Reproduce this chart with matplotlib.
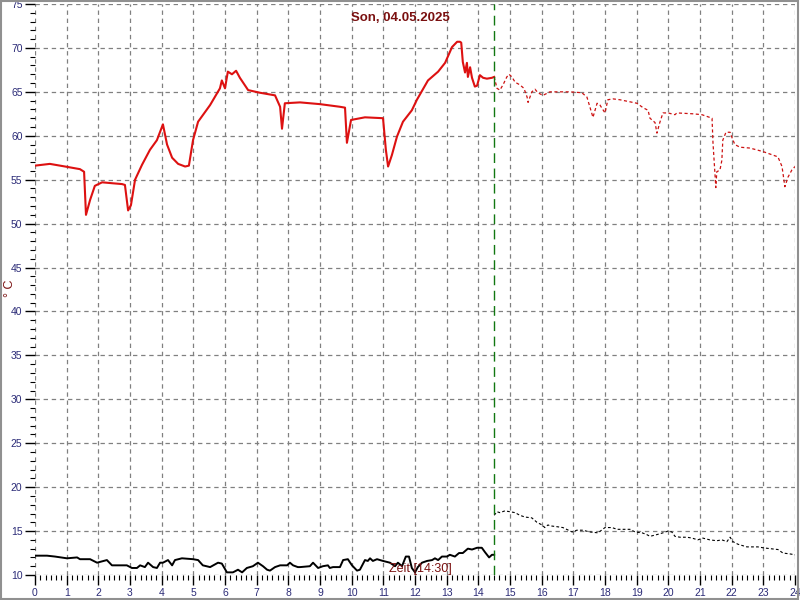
import matplotlib
matplotlib.use("Agg")
import matplotlib.pyplot as plt
from matplotlib.ticker import MultipleLocator
from matplotlib.patches import Rectangle

plt.rcParams['font.family'] = ['Liberation Sans', 'DejaVu Sans']

# --- data (hour of day, value in °C) ---
red_t = [0, 0.47, 0.95, 1.42, 1.55, 1.61, 1.74, 1.89, 2.12, 2.43, 2.75, 2.84, 2.94, 3.03, 3.16,
         3.38, 3.63, 3.85, 4.04, 4.17, 4.33, 4.52, 4.74, 4.86, 4.99, 5.15, 5.53, 5.84, 5.90, 6.0,
         6.09, 6.22, 6.35, 6.47, 6.73, 7.10, 7.58, 7.74, 7.80, 7.89, 8.37, 9.0, 9.63, 9.79, 9.85,
         9.98, 10.42, 10.99, 11.08, 11.15, 11.27, 11.43, 11.62, 11.90, 12.06, 12.41, 12.73, 12.95,
         13.17, 13.33, 13.42, 13.46, 13.51, 13.58, 13.64, 13.67, 13.74, 13.80, 13.89, 13.96, 14.05,
         14.15, 14.27, 14.43, 14.5]
red_v = [56.6, 56.8, 56.5, 56.2, 55.9, 51.0, 52.7, 54.3, 54.7, 54.6, 54.5, 54.4, 51.5, 52.1, 55.0,
         56.7, 58.4, 59.5, 61.3, 59.0, 57.5, 56.8, 56.5, 56.6, 59.5, 61.6, 63.5, 65.4, 66.3, 65.4,
         67.3, 67.0, 67.4, 66.6, 65.2, 64.9, 64.6, 63.3, 60.8, 63.7, 63.8, 63.6, 63.3, 63.2, 59.2,
         61.8, 62.1, 62.0, 58.4, 56.5, 57.8, 59.9, 61.6, 62.9, 64.1, 66.3, 67.3, 68.3,
         70.1, 70.7, 70.7, 70.6, 68.4, 67.2, 68.3, 66.7, 67.8, 66.6, 65.6, 65.7, 66.9,
         66.6, 66.5, 66.6, 66.7]

red_prev_t = [14.5, 14.59, 14.68, 14.78, 14.90, 14.97, 15.06, 15.16, 15.31, 15.44, 15.54, 15.57, 15.69,
              15.79, 15.88, 16.04, 16.26, 16.89, 17.27, 17.43, 17.62, 17.75, 17.84, 18.0, 18.09,
              18.25, 18.47, 19.01, 19.20, 19.36, 19.42, 19.58, 19.64, 19.73, 19.83, 19.99, 20.21,
              20.27, 20.78, 21.06, 21.38, 21.41, 21.50, 21.53, 21.63, 21.69, 21.72, 21.82, 21.95,
              22.01, 22.10, 22.26, 22.58, 22.99, 23.46, 23.59, 23.68, 23.78, 23.90, 24.0]
red_prev_v = [66.7, 65.4, 65.2, 65.8, 66.7, 67.0, 66.7, 66.1, 65.8, 65.4, 64.4, 63.8, 65.0,
              65.3, 64.9, 64.6, 65.0, 65.0, 64.9, 64.4, 62.1, 63.7, 63.5, 62.6, 64.1,
              64.2, 64.1, 63.7, 63.2, 62.9, 62.0, 61.5, 60.3, 61.5, 62.6, 62.6, 62.4,
              62.6, 62.5, 62.4, 62.0, 59.2, 54.1, 55.9, 56.1, 57.2, 59.5, 60.4, 60.4,
              59.8, 59.0, 58.7, 58.6, 58.2, 57.6, 56.5, 54.2, 55.3, 56.1, 56.5]

blk_t = [0, 0.38, 0.63, 1.01, 1.33, 1.42, 1.74, 1.96, 2.27, 2.43, 2.68, 2.90, 3.06, 3.22, 3.32,
         3.47, 3.57, 3.73, 3.85, 3.95, 4.04, 4.20, 4.33, 4.42, 4.64, 4.99, 5.15, 5.30, 5.53, 5.78,
         5.90, 6.06, 6.25, 6.41, 6.54, 6.69, 6.88, 7.04, 7.20, 7.33, 7.42, 7.58, 7.74, 7.96, 8.05,
         8.15, 8.30, 8.37, 8.68, 8.78, 8.94, 9.09, 9.25, 9.31, 9.41, 9.63, 9.73, 9.88, 10.01,
         10.17, 10.26, 10.42, 10.51, 10.58, 10.67, 10.80, 10.99, 11.21, 11.37, 11.46, 11.59,
         11.71, 11.81, 11.90, 12.0, 12.09, 12.22, 12.38, 12.54, 12.63, 12.73, 12.85, 13.01,
         13.10, 13.26, 13.39, 13.51, 13.67, 13.80, 13.96, 14.11, 14.21, 14.34, 14.43, 14.5]
blk_v = [12.2, 12.2, 12.1, 11.9, 12.0, 11.8, 11.8, 11.4, 11.7, 11.1, 11.1, 11.1, 10.8, 10.8, 11.1,
         10.9, 11.4, 10.9, 10.8, 11.4, 11.4, 11.7, 11.1, 11.7, 11.9, 11.8, 11.7, 11.1, 10.9, 11.4,
         11.3, 10.3, 10.3, 10.6, 10.3, 10.8, 11.0, 11.4, 11.0, 10.6, 10.5, 10.9, 11.1, 11.1, 11.4,
         11.1, 10.9, 10.9, 11.0, 11.4, 10.8, 11.0, 11.1, 10.8, 10.9, 10.9, 11.7, 11.8, 11.1,
         10.5, 10.6, 11.7, 11.6, 11.9, 11.6, 11.8, 11.6, 11.4, 11.0, 11.4, 11.0,
         12.1, 12.1, 10.8, 10.3, 10.9, 11.4, 11.6, 11.7, 11.9, 11.7, 12.1, 12.1,
         12.3, 12.1, 12.5, 12.5, 13.0, 12.9, 13.1, 13.1, 12.6, 12.0, 12.3, 12.3]

blk_prev_t = [14.5, 14.59, 14.68, 14.84, 15.0, 15.16, 15.31, 15.47, 15.69, 15.85, 16.01, 16.10, 16.20,
              16.26, 16.48, 16.67, 16.96, 17.11, 17.30, 17.52, 17.78, 18.0, 18.22, 18.38, 18.57,
              18.79, 18.95, 19.17, 19.32, 19.42, 19.64, 19.83, 19.99, 20.11, 20.21, 20.37, 20.59,
              20.75, 20.93, 21.09, 21.31, 21.53, 21.69, 21.85, 21.95, 22.04, 22.20, 22.48, 22.67,
              22.83, 22.99, 23.21, 23.46, 23.62, 23.84, 24.0]
blk_prev_v = [16.8, 17.2, 17.1, 17.3, 17.2, 17.1, 16.8, 16.6, 16.5, 16.0, 15.7, 15.4, 15.7,
              15.6, 15.5, 15.4, 14.9, 15.1, 15.1, 14.9, 14.8, 15.4, 15.4, 15.2, 15.2,
              15.2, 14.9, 14.8, 14.6, 14.4, 14.6, 14.8, 15.0, 14.9, 14.4, 14.3, 14.3,
              14.2, 14.0, 14.2, 14.0, 13.9, 14.0, 13.8, 14.3, 13.8, 13.5, 13.2, 13.2,
              13.2, 13.1, 13.0, 12.9, 12.5, 12.4, 12.3]

now_hour = 14.5
title = "Son, 04.05.2025"
xlabel = "Zeit [14:30]"
ylabel = "° C"
x_ticks = list(range(0, 25))
y_ticks = list(range(10, 80, 5))

# --- figure ---
fig = plt.figure(figsize=(8, 6), dpi=100)
fig.patch.set_facecolor("white")
ax = fig.add_axes([35/800, 1 - 575/600, 760/800, 571/600])

tick_col = "#2b2b77"
dark_red = "#7a1010"

ax.plot(red_t, red_v, color="#dd1111", lw=1.5, solid_joinstyle="round")
ax.plot(red_prev_t, red_prev_v, color="#cc1111", lw=0.9, linestyle=(0, (2.5, 2)))
ax.plot(blk_t, blk_v, color="black", lw=1.4)
ax.plot(blk_prev_t, blk_prev_v, color="black", lw=0.8, linestyle=(0, (2.5, 2)))
ax.axvline(now_hour, color="#117711", lw=1.0, linestyle=(0, (7, 4)))

ax.set_xlim(0, 24)
ax.set_ylim(10, 75)
ax.set_xticks(x_ticks)
ax.set_yticks(y_ticks)
ax.xaxis.set_minor_locator(MultipleLocator(1/6))
ax.yaxis.set_minor_locator(MultipleLocator(1))
ax.grid(True, which="major", color="#808080", linestyle=(0, (3.5, 3)), lw=0.9)
for s in ax.spines.values():
    s.set_visible(False)
ax.tick_params(axis="both", which="major", direction="out", length=7, width=1.0,
               color="black", labelcolor=tick_col, labelsize=7.5, pad=2)
ax.tick_params(axis="both", which="minor", direction="out", length=3.5, width=0.8, color="black")

fig.text(400/800, 1 - 18/600, title, ha="center", va="center", color=dark_red,
         fontsize=9.5, fontweight="bold")
fig.text(420/800, 1 - 569/600, xlabel, ha="center", va="center", color=dark_red, fontsize=9)
fig.text(10/800, 1 - 288/600, ylabel, ha="center", va="center", color=dark_red, fontsize=9,
         rotation=90)

fig.patches.append(Rectangle((0.001, 0.002), 0.997, 0.996, transform=fig.transFigure,
                             fill=False, edgecolor="#909090", lw=1.5))

fig.savefig("out.png", dpi=100)
